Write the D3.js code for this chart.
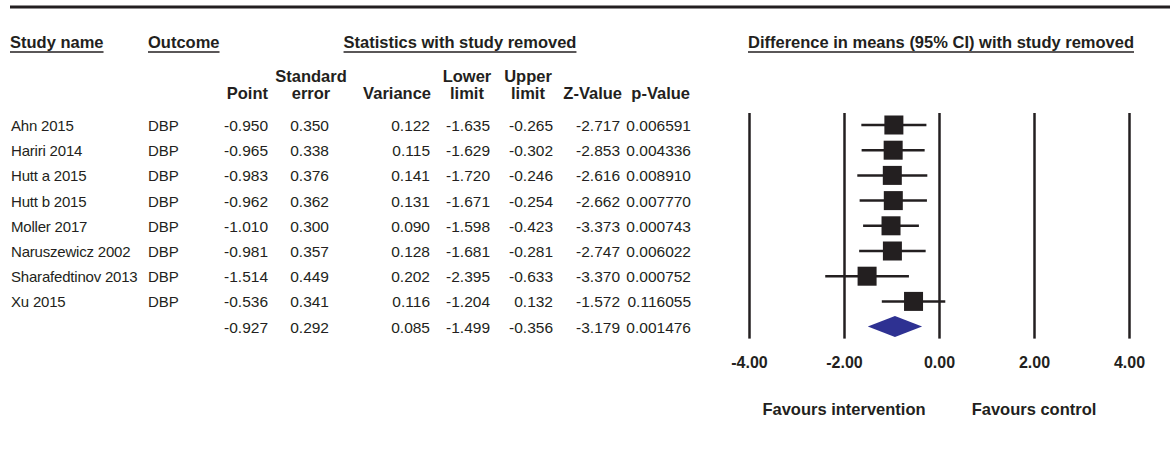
<!DOCTYPE html>
<html>
<head>
<meta charset="utf-8">
<script src="https://cdn.jsdelivr.net/npm/d3@7"></script>
<style>
    body { margin: 0; background: #fff; }
    svg { font-family: "Liberation Sans", Arial, sans-serif; }
</style>
</head>
<body>
<svg id="forest" width="1172" height="454"></svg>
<script>
// data read from the sensitivity (one study removed) table
const studies = ["Ahn 2015", "Hariri 2014", "Hutt a 2015", "Hutt b 2015", "Moller 2017",
    "Naruszewicz 2002", "Sharafedtinov 2013", "Xu 2015"];
const outcomes = ["DBP", "DBP", "DBP", "DBP", "DBP", "DBP", "DBP", "DBP"];
const points = [-0.950, -0.965, -0.983, -0.962, -1.010, -0.981, -1.514, -0.536];
const stdErrors = [0.350, 0.338, 0.376, 0.362, 0.300, 0.357, 0.449, 0.341];
const variances = [0.122, 0.115, 0.141, 0.131, 0.090, 0.128, 0.202, 0.116];
const lowerLimits = [-1.635, -1.629, -1.720, -1.671, -1.598, -1.681, -2.395, -1.204];
const upperLimits = [-0.265, -0.302, -0.246, -0.254, -0.423, -0.281, -0.633, 0.132];
const zValues = [-2.717, -2.853, -2.616, -2.662, -3.373, -2.747, -3.370, -1.572];
const pValues = [0.006591, 0.004336, 0.008910, 0.007770, 0.000743, 0.006022, 0.000752, 0.116055];

// overall row
const overall = { point: -0.927, se: 0.292, variance: 0.085, lower: -1.499, upper: -0.356, z: -3.179, p: 0.001476 };

const tickValues = [-4, -2, 0, 2, 4];
const favourLabels = [{ text: "Favours intervention", at: -2 }, { text: "Favours control", at: 2 }];

const ink = "#231f20";
const diamondColor = "#2e3192";
const boldSize = 16.5;

let svg = d3.select("#forest");

// rows: 8 studies + summary
let nRows = studies.length + 1;
let y = d3.scalePoint()
    .domain(d3.range(nRows))
    .range([125, 326.6]);

let x = d3.scaleLinear()
    .domain([-4, 4])
    .range([749, 1129]);

let f3 = (v) => v.toFixed(3);
let f6 = (v) => v.toFixed(6);

// top rule
svg.append("line")
    .attr("x1", 10).attr("x2", 1170)
    .attr("y1", 7).attr("y2", 7)
    .attr("stroke", ink)
    .attr("stroke-width", 3);

// column headers
function underlined(txt, xPos, anchor) {
    let t = svg.append("text")
        .attr("x", xPos)
        .attr("y", 48)
        .attr("text-anchor", anchor)
        .attr("font-size", boldSize)
        .attr("font-weight", "bold")
        .attr("fill", ink)
        .text(txt);
    let bb = t.node().getBBox();
    svg.append("line")
        .attr("x1", bb.x).attr("x2", bb.x + bb.width)
        .attr("y1", 52).attr("y2", 52)
        .attr("stroke", ink)
        .attr("stroke-width", 1.5);
}
underlined("Study name", 10, "start");
underlined("Outcome", 148, "start");
underlined("Statistics with study removed", 460, "middle");
underlined("Difference in means (95% CI) with study removed", 941, "middle");

// table columns (layout only)
const columns = [
    { head: ["", "Point"], hx: 268, ha: "end", right: 268, vals: points.map(f3), tot: f3(overall.point) },
    { head: ["Standard", "error"], hx: 311, ha: "middle", right: 329, vals: stdErrors.map(f3), tot: f3(overall.se) },
    { head: ["", "Variance"], hx: 431, ha: "end", right: 430, vals: variances.map(f3), tot: f3(overall.variance) },
    { head: ["Lower", "limit"], hx: 467, ha: "middle", right: 490, vals: lowerLimits.map(f3), tot: f3(overall.lower) },
    { head: ["Upper", "limit"], hx: 528, ha: "middle", right: 553, vals: upperLimits.map(f3), tot: f3(overall.upper) },
    { head: ["", "Z-Value"], hx: 622, ha: "end", right: 620, vals: zValues.map(f3), tot: f3(overall.z) },
    { head: ["", "p-Value"], hx: 690, ha: "end", right: 691, vals: pValues.map(f6), tot: f6(overall.p) }
];

for (let c of columns) {
    c.head.forEach((h, i) => {
        svg.append("text")
            .attr("x", c.hx)
            .attr("y", i == 0 ? 81.5 : 99)
            .attr("text-anchor", c.ha)
            .attr("font-size", boldSize)
            .attr("font-weight", "bold")
            .attr("fill", ink)
            .text(h);
    });

    svg.append("g")
        .selectAll("text")
        .data(c.vals.concat([c.tot]))
        .join("text")
        .attr("x", c.right)
        .attr("y", (d, i) => y(i) + 6)
        .attr("text-anchor", "end")
        .attr("font-size", 15.5)
        .attr("fill", ink)
        .text(d => d);
}

svg.append("g")
    .selectAll("text")
    .data(studies)
    .join("text")
    .attr("x", 11)
    .attr("y", (d, i) => y(i) + 6)
    .attr("font-size", 15)
    .attr("letter-spacing", -0.2)
    .attr("fill", ink)
    .text(d => d);

svg.append("g")
    .selectAll("text")
    .data(outcomes)
    .join("text")
    .attr("x", 148)
    .attr("y", (d, i) => y(i) + 6)
    .attr("font-size", 15)
    .attr("fill", ink)
    .text(d => d);

// axis with full height grid lines
let plotTop = y(0) - 12, plotBottom = y(nRows - 1) + 12;
let axis = svg.append("g")
    .attr("transform", `translate(0,${plotBottom})`)
    .call(d3.axisBottom(x)
        .tickValues(tickValues)
        .tickSize(-(plotBottom - plotTop))
        .tickFormat(d => d.toFixed(2)));
axis.select(".domain").remove();
axis.selectAll(".tick line")
    .attr("stroke", ink)
    .attr("stroke-width", 2.5);
axis.selectAll(".tick text")
    .attr("y", 29)
    .attr("dy", 0)
    .attr("font-family", "'Liberation Sans', Arial, sans-serif")
    .attr("font-size", 16)
    .attr("font-weight", "bold")
    .attr("fill", ink);

svg.append("g")
    .selectAll("text")
    .data(favourLabels)
    .join("text")
    .attr("x", d => x(d.at))
    .attr("y", 415)
    .attr("text-anchor", "middle")
    .attr("font-size", boldSize)
    .attr("font-weight", "bold")
    .attr("fill", ink)
    .text(d => d.text);

// study CIs and squares
let box = 19;
let marks = svg.append("g");
marks.selectAll("line")
    .data(points)
    .join("line")
    .attr("x1", (d, i) => x(lowerLimits[i]))
    .attr("x2", (d, i) => x(upperLimits[i]))
    .attr("y1", (d, i) => y(i))
    .attr("y2", (d, i) => y(i))
    .attr("stroke", ink)
    .attr("stroke-width", 2.5);
marks.selectAll("rect")
    .data(points)
    .join("rect")
    .attr("x", d => x(d) - box / 2)
    .attr("y", (d, i) => y(i) - box / 2)
    .attr("width", box)
    .attr("height", box)
    .attr("fill", ink);

// summary diamond
let yd = y(nRows - 1);
svg.append("path")
    .attr("d", d3.line()([
        [x(overall.lower), yd],
        [x(overall.point), yd - 10.5],
        [x(overall.upper), yd],
        [x(overall.point), yd + 10.5]
    ]) + "Z")
    .attr("fill", diamondColor);
</script>
</body>
</html>
